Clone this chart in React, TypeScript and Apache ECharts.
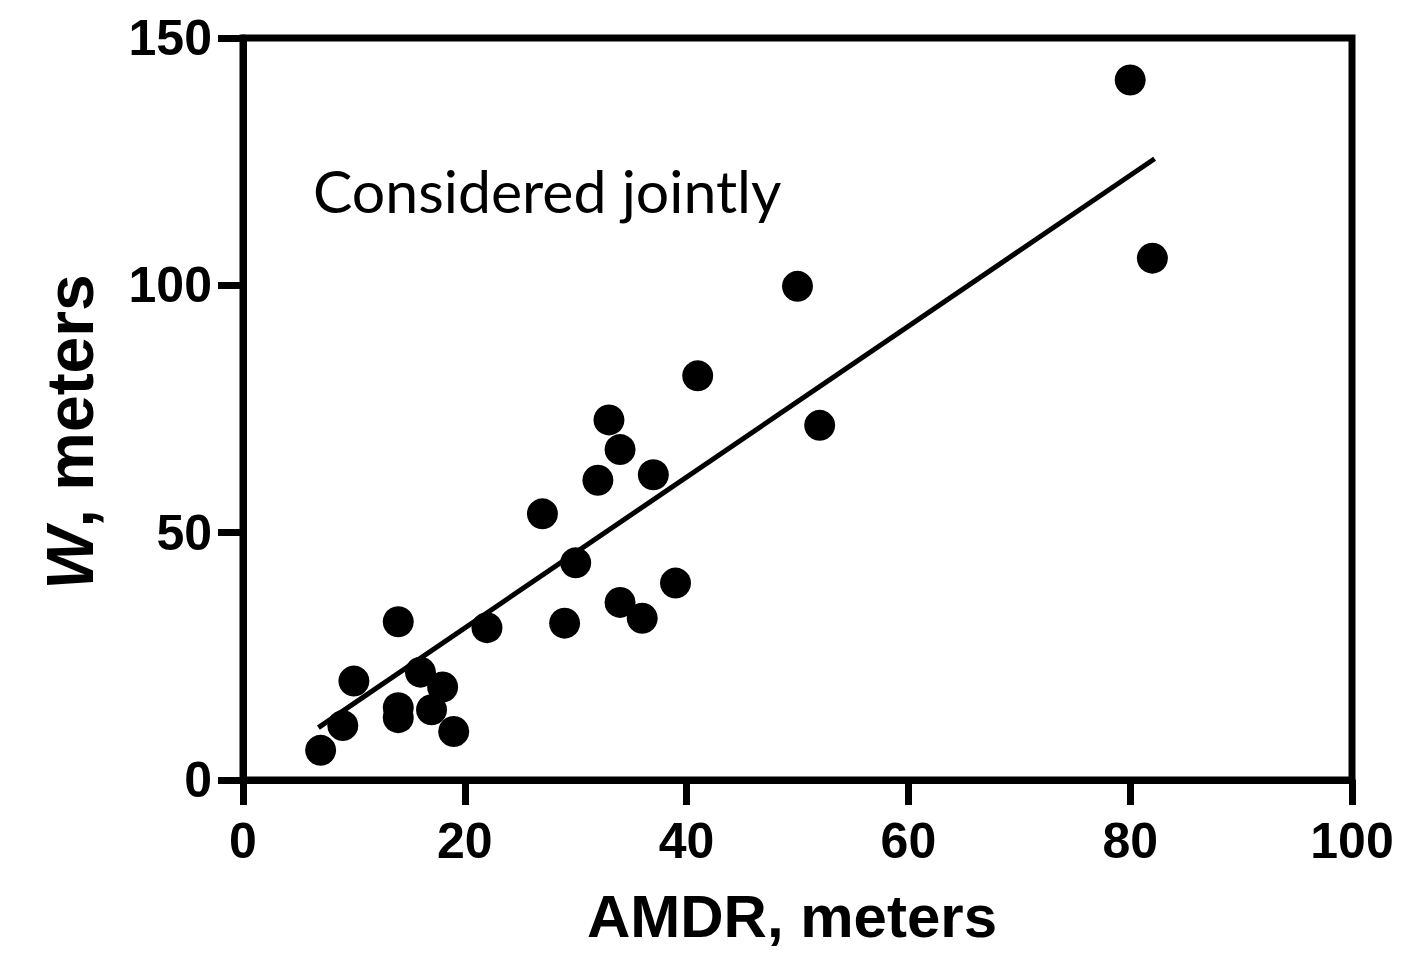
import React, { useEffect, useRef } from "react";
import * as echarts from "echarts";

const amdr = [7, 9, 10, 14, 14, 14, 16, 17, 18, 19, 22, 27, 29, 30, 32, 33, 34, 34, 36, 37, 39, 41, 50, 52, 80, 82];
const wVals = [6, 11, 20, 32, 14.6, 12.6, 21.8, 14.2, 18.8, 9.8, 30.8, 53.8, 31.7, 43.9, 60.6, 72.8, 66.8, 35.9, 32.7, 61.7, 39.8, 81.7, 99.8, 71.7, 141.5, 105.5];
const fitX = [6.8, 82.2];
const fitY = [10.6, 125.6];
const xTicks = [0, 20, 40, 60, 80, 100];
const yTicks = [0, 50, 100, 150];

export default function App() {
  const ref = useRef<HTMLDivElement>(null);
  useEffect(() => {
    if (!ref.current) return;
    const chart = echarts.init(ref.current, null, { renderer: "svg" });
    const font = "'Liberation Sans', Arial, sans-serif";
    chart.setOption({
      animation: false,
      backgroundColor: "#fff",
      grid: {
        left: 243,
        right: 54,
        top: 38,
        bottom: 175,
        show: true,
        borderColor: "#000",
        borderWidth: 7,
        backgroundColor: "transparent",
      },
      xAxis: {
        type: "value",
        min: xTicks[0],
        max: xTicks[xTicks.length - 1],
        interval: 20,
        axisLine: { show: true, onZero: false, lineStyle: { color: "#000", width: 7 } },
        axisTick: { show: true, length: 25, lineStyle: { color: "#000", width: 7 } },
        splitLine: { show: false },
        axisLabel: { color: "#000", fontSize: 50, fontWeight: "bold", fontFamily: font, margin: 36 },
      },
      yAxis: {
        type: "value",
        min: yTicks[0],
        max: yTicks[yTicks.length - 1],
        interval: 50,
        axisLine: { show: true, onZero: false, lineStyle: { color: "#000", width: 7 } },
        axisTick: { show: true, length: 25, lineStyle: { color: "#000", width: 7 } },
        splitLine: { show: false },
        axisLabel: { color: "#000", fontSize: 50, fontWeight: "bold", fontFamily: font, margin: 31 },
      },
      graphic: [
        {
          type: "text",
          left: 313,
          top: 161,
          style: { text: "Considered jointly", fill: "#000", fontSize: 59, fontFamily: "Lato, 'Open Sans', sans-serif" },
          z: 10,
        },
        {
          type: "text",
          x: 792,
          y: 916,
          style: {
            text: "AMDR, meters",
            fill: "#000",
            fontSize: 60,
            fontWeight: "bold",
            fontFamily: font,
            align: "center",
            verticalAlign: "middle",
          },
        },
        {
          type: "text",
          x: 70,
          y: 432,
          rotation: Math.PI / 2,
          style: {
            text: "{i|W}, meters",
            fill: "#000",
            fontSize: 66,
            fontWeight: "bold",
            fontFamily: font,
            align: "center",
            verticalAlign: "middle",
            rich: {
              i: { fontStyle: "italic", fontWeight: "bold", fontSize: 66, fontFamily: font, fill: "#000" },
            },
          },
        },
      ],
      series: [
        {
          type: "scatter",
          data: amdr.map((x, i) => [x, wVals[i]]),
          symbol: "circle",
          symbolSize: 31,
          itemStyle: { color: "#000", opacity: 1 },
          z: 3,
        },
        {
          type: "line",
          data: fitX.map((x, i) => [x, fitY[i]]),
          showSymbol: false,
          symbol: "none",
          lineStyle: { color: "#000", width: 5 },
          z: 4,
        },
      ],
    });
    return () => chart.dispose();
  }, []);
  return <div ref={ref} style={{ position: "absolute", left: 0, top: 0, width: 1406, height: 955 }} />;
}
